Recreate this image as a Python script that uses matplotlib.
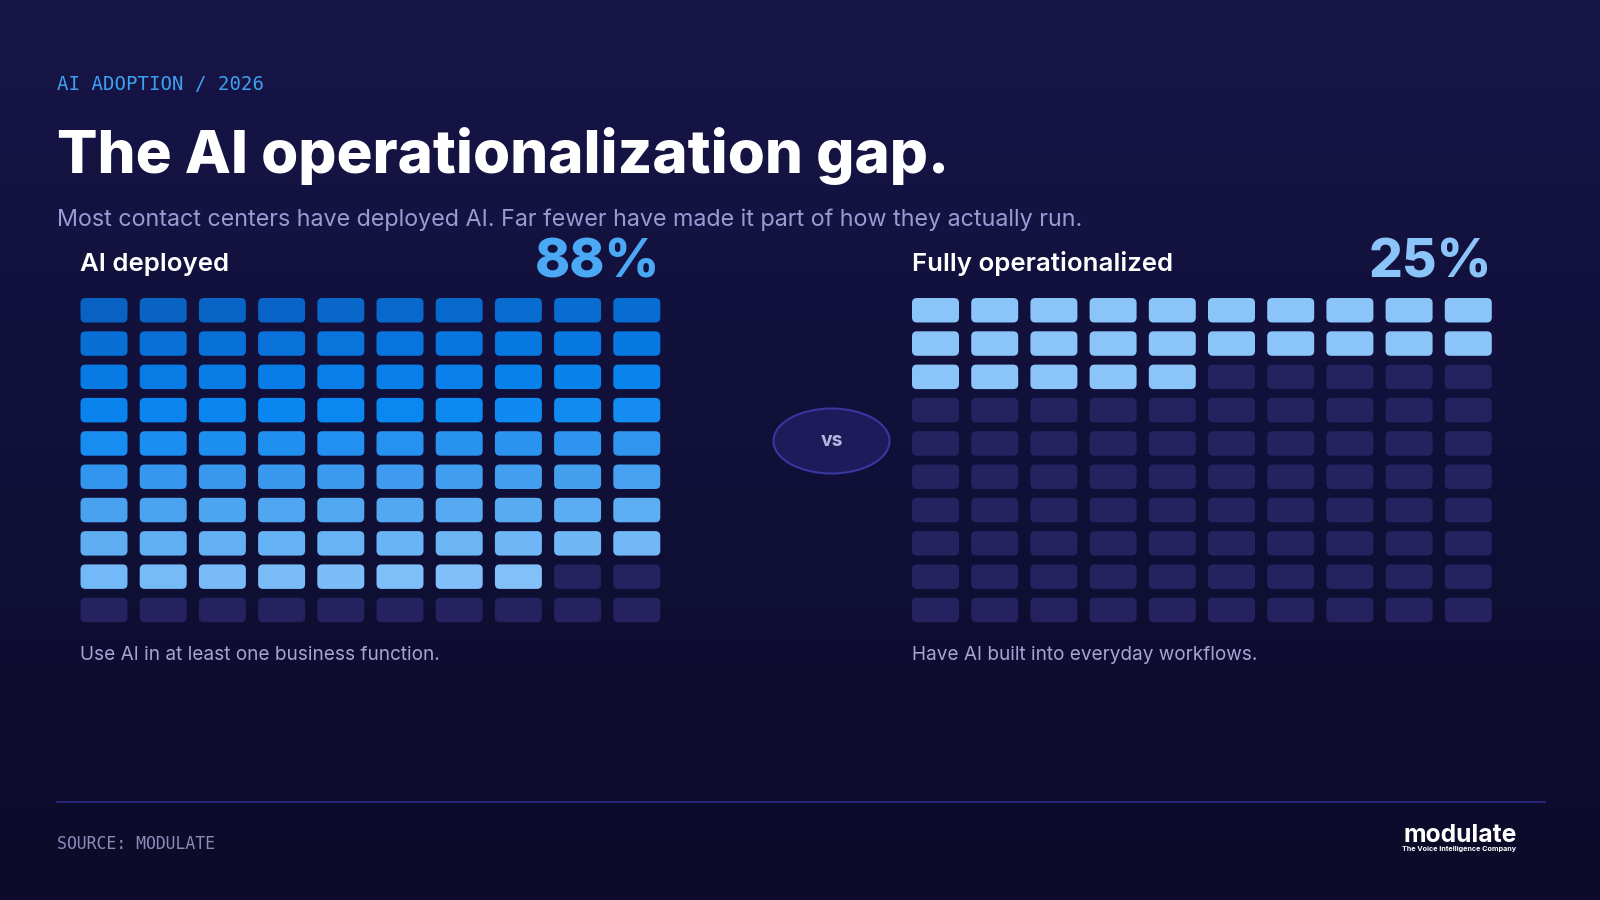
import numpy as np
import matplotlib.pyplot as plt
from matplotlib.patches import FancyBboxPatch, Ellipse
from matplotlib.colors import LinearSegmentedColormap

# data
eyebrow = "AI ADOPTION / 2026"
title = "The AI operationalization gap."
subtitle = "Most contact centers have deployed AI. Far fewer have made it part of how they actually run."
panel_labels = ["AI deployed", "Fully operationalized"]
panel_values = [88, 25]
panel_notes = ["Use AI in at least one business function.", "Have AI built into everyday workflows."]
source = "SOURCE: MODULATE"

W, H = 1600, 900
fig = plt.figure(figsize=(16, 9), dpi=100)
ax = fig.add_axes([0, 0, 1, 1])
ax.set_xlim(0, W)
ax.set_ylim(H, 0)
ax.axis('off')

# background gradient
bg = LinearSegmentedColormap.from_list('bg', ['#161548', '#0c0b29'])
ax.imshow(np.linspace(0, 1, 256).reshape(-1, 1), cmap=bg, aspect='auto',
          extent=[0, W, H, 0], zorder=0)

sans = ['Inter', 'DejaVu Sans']
mono = ['DejaVu Sans Mono']

ax.text(57, 85, eyebrow, family=mono, fontsize=13.7, color='#3ea0f0', va='center', ha='left')
ax.text(57, 173, title, family=sans, fontsize=43.2, fontweight='heavy', color='white',
        va='baseline', ha='left')
ax.text(57, 220, subtitle, family=sans, fontsize=16.8, color='#9c9ad4', va='center', ha='left')

# waffle grids
deployed_cmap = LinearSegmentedColormap.from_list(
    'dep', ['#0862c2', '#0878e2', '#0a88f2', '#3898ee', '#5eaef2', '#82c0fa'])
empty_color = '#25225f'
oper_color = '#8ac4f8'
pct_colors = ['#4aa8f5', '#8ac4f8']

grid_x0 = [80.5, 912]
grid_y0 = 298
pitch_x, pitch_y = 59.2, 33.3
cell_w, cell_h = 47, 24.5

for p in range(2):
    x0 = grid_x0[p]
    val = panel_values[p]
    for i in range(100):
        r, c = divmod(i, 10)
        if i < val:
            if p == 0:
                color = deployed_cmap(i / max(val - 1, 1))
            else:
                color = oper_color
        else:
            color = empty_color
        box = FancyBboxPatch((x0 + c * pitch_x, grid_y0 + r * pitch_y), cell_w, cell_h,
                             boxstyle='round,pad=0,rounding_size=5', facecolor=color,
                             edgecolor='none', zorder=2)
        ax.add_patch(box)
    right = x0 + 9 * pitch_x + cell_w
    ax.text(x0, 264, panel_labels[p], family=sans, fontsize=18.6, fontweight='semibold',
            color='white', va='center', ha='left')
    ax.text(right, 263, f"{val}%", family=sans, fontsize=38.3, fontweight='heavy',
            color=pct_colors[p], va='center', ha='right')
    ax.text(x0, 655, panel_notes[p], family=sans, fontsize=13.7, color='#a6a4d2',
            va='center', ha='left')

# vs badge
ax.add_patch(Ellipse((831.5, 441), 116, 65, facecolor='#1e1b5a', edgecolor='#3a36a0',
                     linewidth=1.5, zorder=2))
ax.text(831.5, 441, "vs", family=sans, fontsize=14, fontweight='bold', color='#b8b6e2',
        va='center', ha='center', zorder=3)

# footer
ax.plot([57, 1545], [802, 802], color='#2e2c8a', linewidth=1.2)
ax.text(57, 844, source, family=mono, fontsize=11.9, color='#8c8ab8', va='center', ha='left')
ax.text(1517, 835, "modulate", family=sans, fontsize=17.8, fontweight='bold', color='white',
        va='center', ha='right')
ax.text(1516, 849, "The Voice Intelligence Company", family=sans, fontsize=5.2,
        fontweight='bold', color='white', va='center', ha='right')

fig.savefig('out.png', dpi=100)
